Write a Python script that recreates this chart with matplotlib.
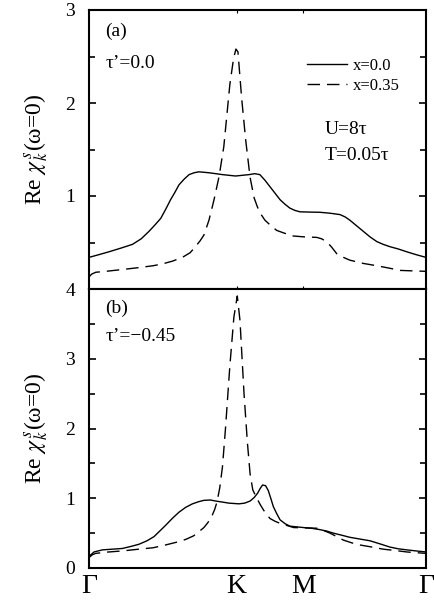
import matplotlib
matplotlib.use("Agg")
import matplotlib.pyplot as plt
from matplotlib.ticker import MultipleLocator, FixedLocator

plt.rcParams['font.family'] = ['Liberation Serif', 'DejaVu Serif']
plt.rcParams['mathtext.fontset'] = 'stix'

# k-path positions (fraction of path Gamma-K-M-Gamma)
path_ticks = [0.0, 0.438, 0.636, 1.0]
path_labels = ['Γ', 'K', 'M', 'Γ']

# Panel (a): t' = 0.0
xa_solid = [0.0, 0.030, 0.059, 0.095, 0.129, 0.155, 0.178, 0.196, 0.213, 0.228,
            0.242, 0.255, 0.267, 0.282, 0.297, 0.312, 0.326, 0.356, 0.396,
            0.435, 0.475, 0.492, 0.507, 0.522, 0.537, 0.552, 0.567, 0.582,
            0.596, 0.611, 0.626, 0.655, 0.685, 0.715, 0.745, 0.760, 0.774,
            0.794, 0.814, 0.834, 0.854, 0.873, 0.893, 0.918, 0.943, 0.970, 1.0]
ya_solid = [0.34, 0.37, 0.40, 0.44, 0.48, 0.54, 0.62, 0.69, 0.76, 0.86,
            0.96, 1.04, 1.12, 1.18, 1.23, 1.25, 1.26, 1.25, 1.23,
            1.215, 1.23, 1.24, 1.23, 1.17, 1.10, 1.03, 0.96, 0.91,
            0.87, 0.845, 0.83, 0.827, 0.825, 0.815, 0.80, 0.775, 0.74,
            0.68, 0.62, 0.56, 0.51, 0.48, 0.455, 0.43, 0.40, 0.37, 0.34]
xa_dash = [0.0, 0.008, 0.020, 0.050, 0.100, 0.148, 0.190, 0.218, 0.248, 0.277,
           0.300, 0.316, 0.330, 0.341, 0.356, 0.371, 0.386, 0.400, 0.418,
           0.429, 0.436, 0.442, 0.453, 0.465, 0.478, 0.490, 0.500, 0.511,
           0.522, 0.540, 0.557, 0.580, 0.606, 0.640, 0.676, 0.690, 0.705,
           0.720, 0.735, 0.755, 0.774, 0.814, 0.854, 0.890, 0.923, 0.960, 1.0]
ya_dash = [0.13, 0.16, 0.18, 0.19, 0.21, 0.23, 0.25, 0.27, 0.30, 0.34,
           0.39, 0.455, 0.52, 0.58, 0.74, 0.96, 1.21, 1.53, 2.20,
           2.48, 2.58, 2.55, 2.05, 1.60, 1.20, 0.98, 0.88, 0.80,
           0.74, 0.68, 0.63, 0.60, 0.57, 0.56, 0.555, 0.54, 0.51,
           0.45, 0.38, 0.34, 0.31, 0.275, 0.25, 0.225, 0.20, 0.195, 0.19]

# Panel (b): t' = -0.45
xb_solid = [0.0, 0.008, 0.015, 0.040, 0.070, 0.099, 0.125, 0.148, 0.172, 0.193,
            0.210, 0.227, 0.247, 0.267, 0.287, 0.307, 0.325, 0.341, 0.360,
            0.376, 0.396, 0.415, 0.445, 0.462, 0.478, 0.490, 0.500, 0.508,
            0.515, 0.524, 0.532, 0.540, 0.547, 0.557, 0.567, 0.582, 0.596,
            0.616, 0.636, 0.660, 0.685, 0.705, 0.725, 0.750, 0.774, 0.804,
            0.834, 0.864, 0.893, 0.918, 0.943, 0.970, 1.0]
yb_solid = [0.17, 0.20, 0.23, 0.26, 0.27, 0.28, 0.31, 0.34, 0.39, 0.45,
            0.53, 0.61, 0.71, 0.80, 0.87, 0.92, 0.95, 0.97, 0.975,
            0.96, 0.945, 0.93, 0.92, 0.93, 0.96, 1.01, 1.07, 1.14,
            1.19, 1.18, 1.11, 0.99, 0.88, 0.78, 0.69, 0.635, 0.60,
            0.59, 0.58, 0.57, 0.55, 0.53, 0.50, 0.47, 0.44, 0.415,
            0.39, 0.345, 0.30, 0.275, 0.26, 0.245, 0.23]
xb_dash = [0.0, 0.010, 0.020, 0.059, 0.100, 0.148, 0.190, 0.227, 0.260, 0.287,
           0.310, 0.326, 0.341, 0.351, 0.360, 0.366, 0.373, 0.380, 0.388,
           0.396, 0.405, 0.418, 0.430, 0.440, 0.448, 0.460, 0.470, 0.478,
           0.486, 0.498, 0.508, 0.518, 0.527, 0.537, 0.552, 0.567, 0.587,
           0.607, 0.640, 0.676, 0.695, 0.715, 0.735, 0.755, 0.780, 0.804,
           0.840, 0.873, 0.910, 0.943, 0.970, 1.0]
yb_dash = [0.15, 0.19, 0.21, 0.23, 0.245, 0.27, 0.29, 0.33, 0.37, 0.41,
           0.46, 0.52, 0.58, 0.64, 0.70, 0.76, 0.84, 0.95, 1.15,
           1.45, 2.00, 2.90, 3.60, 3.90, 3.55, 2.50, 1.80, 1.35,
           1.12, 1.00, 0.91, 0.83, 0.77, 0.71, 0.67, 0.64, 0.61,
           0.58, 0.575, 0.57, 0.54, 0.50, 0.45, 0.40, 0.36, 0.33,
           0.30, 0.27, 0.25, 0.23, 0.22, 0.21]

fig = plt.figure(figsize=(4.35, 6.02), dpi=100)
W, H = 435.0, 602.0
L, R = 89 / W, 426 / W
ax1 = fig.add_axes([L, 1 - 289 / H, R - L, (289 - 10) / H])
ax2 = fig.add_axes([L, 1 - 568 / H, R - L, (568 - 289) / H])

dash = (9, 5)
lw = 1.0
ax1.plot(xa_solid, ya_solid, color='black', lw=lw, label='x=0.0')
ax1.plot(xa_dash, ya_dash, color='black', lw=lw, dashes=dash, label='x=0.35')
ax2.plot(xb_solid, yb_solid, color='black', lw=lw)
ax2.plot(xb_dash, yb_dash, color='black', lw=lw, dashes=dash)

for ax in (ax1, ax2):
    ax.set_xlim(0, 1)
    for sp in ax.spines.values():
        sp.set_linewidth(1.5)
    ax.yaxis.set_minor_locator(MultipleLocator(0.5))
    ax.tick_params(axis='y', which='both', direction='in', left=True, right=True,
                   labelsize=14, width=1.2, pad=10)
    ax.tick_params(axis='y', which='major', length=5)
    ax.tick_params(axis='y', which='minor', length=4)
    ax.set_ylabel(r'Re $\chi^{\,s}_{\,k}$(ω=0)', fontsize=17, labelpad=11)

ax1.set_ylim(0, 3)
ax1.yaxis.set_major_locator(FixedLocator([0, 1, 2, 3]))
ax1.set_yticklabels(['', '1', '2', '3'])
ax1.set_xticks(path_ticks[1:3])
ax1.set_xticklabels([])
ax1.tick_params(axis='x', direction='in', top=True, bottom=True, length=2, width=0.8)

ax2.set_ylim(0, 4)
ax2.yaxis.set_major_locator(MultipleLocator(1))
ax2.set_xticks(path_ticks)
ax2.set_xticklabels(path_labels, fontsize=20)
ax2.tick_params(axis='x', length=0, pad=4)

ax1.text(0.048, 0.925, '(a)', transform=ax1.transAxes, fontsize=14, va='center')
ax1.text(0.048, 0.81, 'τ’=0.0', transform=ax1.transAxes, fontsize=14, va='center')
ax1.text(0.70, 0.57, 'U=8τ', transform=ax1.transAxes, fontsize=14, va='center')
ax1.text(0.70, 0.48, 'T=0.05τ', transform=ax1.transAxes, fontsize=14, va='center')
ax1.legend(loc='upper left', bbox_to_anchor=(0.647, 0.828), frameon=False,
           fontsize=12, handlelength=2.4, handletextpad=0.35, labelspacing=0.25,
           borderaxespad=0, borderpad=0)

ax2.text(0.048, 0.93, '(b)', transform=ax2.transAxes, fontsize=14, va='center')
ax2.text(0.048, 0.83, 'τ’=−0.45', transform=ax2.transAxes, fontsize=14, va='center')

fig.savefig('out.png', dpi=100)
